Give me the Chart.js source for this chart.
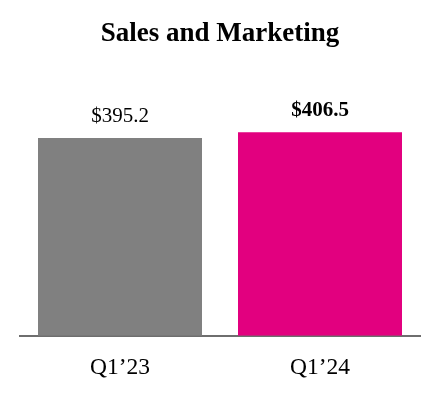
<!DOCTYPE html>
<html>
<head>
<meta charset="utf-8">
<script src="https://cdn.jsdelivr.net/npm/chart.js@4"></script>
<style>
  body { margin: 0; background: #fff; }
  #wrap { width: 440px; height: 400px; }
</style>
</head>
<body>
<div id="wrap"><canvas id="myChart" width="440" height="400"></canvas></div>
<script>
var quarters = ["Q1\u201923", "Q1\u201924"];
var sales = [395.2, 406.5];
var valueLabels = ["$395.2", "$406.5"];
var barColors = ["#808080", "#e2007f"];

//!Value labels above bars
var valueLabelPlugin = {
  id: "valueLabels",
  afterDatasetsDraw: function(chart) {
    var ctx = chart.ctx;
    var meta = chart.getDatasetMeta(0);
    ctx.save();
    ctx.fillStyle = "#000";
    ctx.textAlign = "center";
    ctx.textBaseline = "bottom";
    meta.data.forEach(function(bar, i) {
      var last = i === meta.data.length - 1;
      ctx.font = (last ? "bold " : "") + "21px 'Liberation Serif', serif";
      ctx.fillText(valueLabels[i], bar.x, bar.y - 11);
    });
    ctx.restore();
  }
};

var ctx = document.getElementById("myChart").getContext("2d");
var myChart = new Chart(ctx, {
  type: "bar",
  data: {
    labels: quarters,
    datasets: [
      {
        data: sales,
        backgroundColor: barColors,
        borderWidth: 0,
        barPercentage: 0.82,
        categoryPercentage: 1
      }
    ]
  },
  options: {
    responsive: false,
    animation: false,
    layout: { padding: { left: 20, right: 20, bottom: 0 } },
    plugins: {
      legend: { display: false },
      tooltip: { enabled: false },
      title: {
        display: true,
        text: "Sales and Marketing",
        color: "#000",
        font: { family: "'Liberation Serif', serif", size: 27, weight: "bold" },
        padding: { top: 18, bottom: 35 }
      }
    },
    scales: {
      x: {
        grid: { display: false, drawTicks: false },
        border: { display: true, color: "#6e6e6e", width: 2 },
        ticks: {
          color: "#000",
          padding: 18,
          font: { family: "'Liberation Serif', serif", size: 23.5 }
        }
      },
      y: {
        display: false,
        min: 0,
        max: 500
      }
    }
  },
  plugins: [valueLabelPlugin]
});
</script>
</body>
</html>
